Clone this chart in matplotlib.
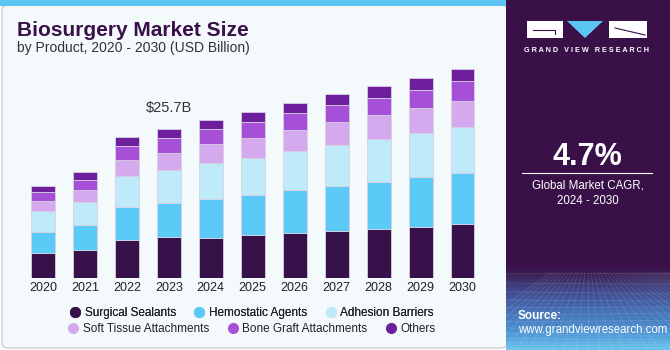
import matplotlib
matplotlib.use("Agg")
import matplotlib.pyplot as plt
import numpy as np
from matplotlib.patches import FancyBboxPatch, Rectangle, Polygon
from matplotlib.lines import Line2D
from matplotlib.colors import LinearSegmentedColormap

plt.rcParams['font.family'] = ['Liberation Sans', 'DejaVu Sans']

# data (USD Billion)
years = ['2020', '2021', '2022', '2023', '2024', '2025', '2026', '2027', '2028', '2029', '2030']
surgical_sealants = [4.26, 4.83, 6.50, 7.12, 6.95, 7.37, 7.71, 8.11, 8.45, 8.85, 9.26]
hemostatic_agents = [3.67, 4.26, 5.74, 5.81, 6.73, 7.00, 7.47, 7.81, 8.16, 8.52, 8.85]
adhesion_barriers = [3.57, 3.97, 5.40, 5.64, 6.11, 6.38, 6.68, 7.07, 7.37, 7.64, 7.99]
soft_tissue = [1.78, 2.07, 2.76, 2.98, 3.33, 3.45, 3.73, 3.92, 4.09, 4.26, 4.43]
bone_graft = [1.60, 1.83, 2.36, 2.54, 2.59, 2.76, 2.83, 2.98, 3.04, 3.21, 3.40]
others = [0.98, 1.28, 1.55, 1.60, 1.55, 1.67, 1.78, 1.85, 1.97, 2.02, 2.07]

series = [surgical_sealants, hemostatic_agents, adhesion_barriers, soft_tissue, bone_graft, others]
names = ['Surgical Sealants', 'Hemostatic Agents', 'Adhesion Barriers',
         'Soft Tissue Attachments', 'Bone Graft Attachments', 'Others']
colors = ['#37114A', '#5CCAF6', '#BEEAF9', '#D5A9ED', '#A650D8', '#6E1F9D']

W, H = 670, 350
fig = plt.figure(figsize=(6.7, 3.5), dpi=100)
fig.patch.set_facecolor('white')

# chart panel background
fig.patches.append(FancyBboxPatch((2 / W, 2 / H), 505 / W, 343 / H,
                                  boxstyle='round,pad=0,rounding_size=0.012',
                                  transform=fig.transFigure, facecolor='#F4F9FC',
                                  edgecolor='#CFCFCF', linewidth=1, zorder=-2))
fig.patches.append(Rectangle((0, 344 / H), 507 / W, 6 / H, transform=fig.transFigure,
                             facecolor='#5CC6F2', edgecolor='none', zorder=-1))

# right panel with gradient
rax = fig.add_axes([506 / W, 0, 164 / W, 1])
grad_cmap = LinearSegmentedColormap.from_list('panel', [
    (0.0, '#66C2EC'), (0.05, '#4D93D3'), (0.11, '#4670B4'), (0.17, '#40488A'),
    (0.21, '#3B2459'), (0.24, '#3A1049'), (1.0, '#3A1049')])
g = np.linspace(0, 1, 350).reshape(-1, 1)
rax.imshow(g, aspect='auto', cmap=grad_cmap, origin='lower', extent=(0, 164, 0, 350))
# faint perspective grid at the bottom
for k in range(14):
    yy = 76 * (k / 13) ** 1.6
    rax.plot([0, 164], [yy, yy + 2 * np.sin(k)], color='white', alpha=0.12, lw=0.6)
for k in range(-12, 26):
    x0 = 82 + k * 12
    rax.plot([82 + k * 3.2, x0], [77, 0], color='white', alpha=0.12, lw=0.6)
rax.set_xlim(0, 164)
rax.set_ylim(0, 350)
rax.axis('off')

# logo
rax.add_patch(Rectangle((21, 312), 36, 17, facecolor='white', edgecolor='none'))
rax.plot([27, 49, 49], [320, 320, 316], color='#3A1049', lw=0.8)
rax.add_patch(Polygon([[61, 329], [97, 329], [79, 312]], facecolor='#5CC6F2', edgecolor='none'))
rax.add_patch(Rectangle((103, 312), 38, 17, facecolor='white', edgecolor='none'))
rax.plot([109, 139], [322, 315], color='#3A1049', lw=0.8)
rax.text(81, 300, 'G R A N D   V I E W   R E S E A R C H', color='white', fontsize=5.2,
         fontweight='bold', ha='center', va='center')

rax.text(81.5, 193, '4.7%', color='white', fontsize=22, fontweight='bold', ha='center', va='center')
rax.plot([16, 146], [177, 177], color='white', lw=0.8)
rax.text(81.5, 165, 'Global Market CAGR,', color='white', fontsize=8.3, ha='center', va='center')
rax.text(81.5, 149, '2024 - 2030', color='white', fontsize=8.3, ha='center', va='center')
rax.text(12, 34, 'Source:', color='white', fontsize=8.5, fontweight='bold', ha='left', va='center')
rax.text(12, 20, 'www.grandviewresearch.com', color='white', fontsize=8.3, ha='left', va='center')

# titles
fig.text(17 / W, 1 - 30 / H, 'Biosurgery Market Size', fontsize=15, fontweight='bold',
         color='#3A1049', ha='left', va='center')
fig.text(17 / W, 1 - 48 / H, 'by Product, 2020 - 2030 (USD Billion)', fontsize=10,
         color='#333333', ha='left', va='center')

# bars
ax = fig.add_axes([22 / W, 72 / H, 461.5 / W, 232 / H])
ax.set_facecolor('none')
x = np.arange(len(years))
bottom = np.zeros(len(years))
for vals, name, c in zip(series, names, colors):
    ax.bar(x, vals, 0.57, bottom=bottom, color=c, edgecolor='#D8D0E2', linewidth=0.6,
           label=name, zorder=2)
    bottom += np.array(vals)

ax.annotate('$25.7B', xy=(3, bottom[3]), xytext=(0, 14), textcoords='offset pixels',
            ha='center', va='bottom', fontsize=10.5, color='#333333')

ax.set_xlim(-0.5, len(years) - 0.5)
ax.set_ylim(0, 40)
ax.set_xticks(x)
ax.set_xticklabels(years, fontsize=9, color='#222222')
ax.tick_params(axis='x', length=0, pad=3)
ax.set_yticks([])
for s in ax.spines.values():
    s.set_visible(False)

# legend in two centred rows
handles = [Line2D([], [], marker='o', linestyle='none', markersize=7, color=c) for c in colors]
leg1 = fig.legend(handles[:3], names[:3], loc='center', bbox_to_anchor=(252 / W, 1 - 313 / H),
                  ncol=3, frameon=False, fontsize=8.5, handlelength=0.8, handletextpad=0.4,
                  columnspacing=1.6, labelcolor='#222222')
leg2 = fig.legend(handles[3:], names[3:], loc='center', bbox_to_anchor=(252 / W, 1 - 329 / H),
                  ncol=3, frameon=False, fontsize=8.5, handlelength=0.8, handletextpad=0.4,
                  columnspacing=1.6, labelcolor='#222222')
fig.add_artist(leg1)

fig.savefig('out.png', dpi=100)
